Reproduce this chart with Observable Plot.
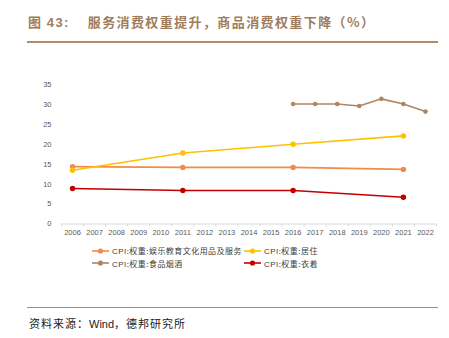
<!DOCTYPE html>
<html><head><meta charset="utf-8">
<script src="https://cdn.jsdelivr.net/npm/d3@7"></script>
<script src="https://cdn.jsdelivr.net/npm/@observablehq/plot@0.6"></script>
<style>
body{margin:0;background:#fff;width:449px;height:338px;position:relative;overflow:hidden;font-family:"Noto Sans CJK SC",sans-serif;}
#title{position:absolute;left:28px;top:13px;font-size:13px;font-weight:bold;color:#a07c5a;white-space:nowrap;line-height:18px;letter-spacing:1.4px;}
.hr{position:absolute;left:27px;width:411px;height:1.5px;background:#b08d68;}
#chart{position:absolute;left:0;top:70px;}
#legend{position:absolute;left:92px;top:245px;font-size:8px;color:#404040;}
.item{position:absolute;white-space:nowrap;display:flex;align-items:center;height:11px;letter-spacing:0.45px;}
.item svg{margin-right:3px;}
#source{position:absolute;left:29px;top:315px;font-size:11px;color:#222;white-space:nowrap;line-height:16px;letter-spacing:1px;}
#source .w{font-family:"Liberation Sans",Arial,sans-serif;letter-spacing:0;}
</style></head>
<body>
<div id="title">图 <span style="font-family:'Liberation Sans',Arial,sans-serif">43:</span><span style="display:inline-block;width:18px"></span>服务消费权重提升，商品消费权重下降（%）</div>
<div class="hr" style="top:41px"></div>
<div id="chart"></div>
<div id="legend"></div>
<div class="hr" style="top:306.5px"></div>
<div id="source">资料来源：<span class="w">Wind</span>，德邦研究所</div>
<script>
const years = [2006,2007,2008,2009,2010,2011,2012,2013,2014,2015,2016,2017,2018,2019,2020,2021,2022];
const censusYears = [2006, 2011, 2016, 2021];
const entertainment = [14.4, 14.2, 14.2, 13.7];
const housing = [13.5, 17.8, 20.0, 22.1];
const clothing = [8.9, 8.4, 8.4, 6.7];
const foodYears = [2016, 2017, 2018, 2019, 2020, 2021, 2022];
const food = [30.1, 30.1, 30.1, 29.6, 31.4, 30.1, 28.2];
const yTicks = [0, 5, 10, 15, 20, 25, 30, 35];
const seriesNames = ["CPI:权重:娱乐教育文化用品及服务", "CPI:权重:居住", "CPI:权重:食品烟酒", "CPI:权重:衣着"];
const colors = ["#f4894b", "#ffc000", "#ad875f", "#c00000"];

const rows = [];
censusYears.forEach((y, i) => {
  rows.push({s: seriesNames[0], year: y, v: entertainment[i]});
  rows.push({s: seriesNames[1], year: y, v: housing[i]});
  rows.push({s: seriesNames[3], year: y, v: clothing[i]});
});
foodYears.forEach((y, i) => rows.push({s: seriesNames[2], year: y, v: food[i]}));

const boundaries = years.map(y => y - 0.5).concat([years[years.length-1] + 0.5]);
const order = [seriesNames[0], seriesNames[2], seriesNames[1], seriesNames[3]];

const chart = Plot.plot({
  width: 449,
  height: 176,
  marginLeft: 61,
  marginRight: 13,
  marginTop: 14,
  marginBottom: 22.5,
  x: {domain: [2005.5, 2022.5], label: null},
  y: {domain: [0, 35], label: null},
  color: {domain: seriesNames, range: colors},
  style: {fontFamily: "'Liberation Sans', Arial, sans-serif", fontSize: "7.5px", color: "#595959", background: "#fff"},
  marks: [
    Plot.ruleY([0], {stroke: "#d9d9d9", strokeWidth: 1}),
    Plot.axisX({ticks: boundaries, tickSize: 3, stroke: "#d9d9d9", tickFormat: () => "", label: null}),
    Plot.axisX({ticks: years, tickSize: 0, tickPadding: 6, tickFormat: d => String(d), fill: "#595959", label: null}),
    Plot.axisY({ticks: yTicks, tickSize: 0, tickPadding: 10, fill: "#595959", label: null}),
    ...order.map(name => Plot.line(rows.filter(r => r.s === name), {x: "year", y: "v", stroke: "s", strokeWidth: 1.6})),
    ...order.map(name => Plot.dot(rows.filter(r => r.s === name), {x: "year", y: "v", fill: "s", r: name === seriesNames[2] ? 2.3 : 2.7}))
  ]
});
document.getElementById("chart").appendChild(chart);

const legend = document.getElementById("legend");
const pos = [[0,0],[152,0],[0,12.5],[152,12.5]];
seriesNames.forEach((name, i) => {
  const d = document.createElement("div");
  d.className = "item";
  d.style.left = pos[i][0] + "px";
  d.style.top = pos[i][1] + "px";
  d.innerHTML = `<svg width="17" height="8"><line x1="0" x2="17" y1="4" y2="4" stroke="${colors[i]}" stroke-width="1.6"/><circle cx="8.5" cy="4" r="2.6" fill="${colors[i]}"/></svg><span><span style="font-family:'Liberation Sans',Arial,sans-serif">CPI</span>${name.slice(3)}</span>`;
  legend.appendChild(d);
});
</script>
</body></html>
